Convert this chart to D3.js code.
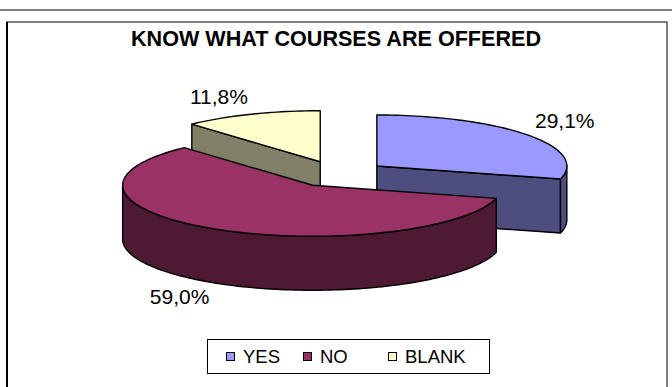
<!DOCTYPE html>
<html>
<head>
<meta charset="utf-8">
<script src="https://cdn.jsdelivr.net/npm/d3@7"></script>
<style>
  html, body { margin: 0; padding: 0; background: #fff; }
  svg { display: block; font-family: "Liberation Sans", Arial, sans-serif; }
</style>
</head>
<body>
<svg id="chart" width="672" height="387"></svg>
<script>
// Survey answers: "Know what courses are offered"
const categories = ["YES", "NO", "BLANK"];
const values = [29.1, 59.0, 11.8];
const topColors = ["#9999FF", "#993366", "#FFFFCC"];
const sideColors = ["#4D4D80", "#4D1933", "#808066"];
const title = "KNOW WHAT COURSES ARE OFFERED";

const fmt = v => d3.format(".1f")(v).replace(".", ",") + "%";

const svg = d3.select("#chart");

// outer frames
svg.append("line").attr("x1", 0).attr("x2", 672).attr("y1", 10).attr("y2", 10)
  .attr("stroke", "#808080").attr("stroke-width", 2);
svg.append("path").attr("d", "M7,392 V22 H667 V392")
  .attr("fill", "none").attr("stroke", "#555").attr("stroke-width", 1.5);
svg.append("line").attr("x1", 7).attr("x2", 7).attr("y1", 22).attr("y2", 387)
  .attr("stroke", "#000").attr("stroke-width", 2);

// title
svg.append("text")
  .attr("x", 336).attr("y", 46)
  .attr("text-anchor", "middle")
  .attr("font-weight", "bold").attr("font-size", 21.5)
  .attr("textLength", 410).attr("lengthAdjust", "spacingAndGlyphs")
  .text(title);

// 3D pie geometry (orthographic, tilted view)
const rx = 190, ry = 51, depth = 54;
const cx = 338, cy = 174, explode = 49, k = ry / rx;

const data = categories.map((c, i) => ({ name: c, value: values[i], i }));
const arcs = d3.pie().sort(null).value(d => d.value)(data);

const pt = (c, t, dz = 0) => [c.x + rx * Math.sin(t), c.y - ry * Math.cos(t) + dz];
function arcPts(c, a0, a1, dz = 0) {
  const n = Math.max(2, Math.ceil(Math.abs(a1 - a0) / (Math.PI / 120)));
  return d3.range(n + 1).map(j => pt(c, a0 + (a1 - a0) * j / n, dz));
}
const line = d3.line().curve(d3.curveLinearClosed);

arcs.forEach(a => {
  const bis = (a.startAngle + a.endAngle) / 2;
  a.bis = bis;
  a.c = { x: cx + explode * Math.sin(bis), y: cy - explode * k * Math.cos(bis) };
});

const gPie = svg.append("g")
  .attr("stroke", "#000").attr("stroke-width", 1.4).attr("stroke-linejoin", "round");

// back slices first
arcs.slice().sort((p, q) => p.c.y - q.c.y).forEach(a => {
  const c = a.c, a0 = a.startAngle, a1 = a.endAngle, i = a.data.i;
  const g = gPie.append("g");
  // radial cut faces that face the viewer
  [[a0, Math.sin(a0) < -1e-6], [a1, Math.sin(a1) > 1e-6]].forEach(([t, vis]) => {
    if (!vis) return;
    g.append("path").attr("fill", sideColors[i])
      .attr("d", line([[c.x, c.y], pt(c, t), pt(c, t, depth), [c.x, c.y + depth]]));
  });
  // outer rim (front half only)
  const lo = Math.max(a0, Math.PI / 2), hi = Math.min(a1, 3 * Math.PI / 2);
  if (lo < hi) {
    const pts = arcPts(c, lo, hi).concat(arcPts(c, hi, lo, depth));
    g.append("path").attr("fill", sideColors[i]).attr("d", line(pts));
  }
  // top face
  g.append("path").attr("fill", topColors[i])
    .attr("d", line([[c.x, c.y]].concat(arcPts(c, a0, a1))));
});

// value labels
arcs.forEach(a => {
  const s = Math.sin(a.bis), co = Math.cos(a.bis);
  const x = a.c.x + rx * 1.05 * s;
  const y = co > 0 ? a.c.y - ry * 1.22 * co
                   : a.c.y + depth + ry * 1.15 * (-co) + 15;
  svg.append("text")
    .attr("x", x).attr("y", y)
    .attr("text-anchor", s < 0 ? "end" : "start")
    .attr("font-size", 21)
    .text(fmt(a.data.value));
});

// legend
const lg = svg.append("g");
lg.append("rect").attr("x", 207.5).attr("y", 339.5).attr("width", 282).attr("height", 34)
  .attr("fill", "#fff").attr("stroke", "#000").attr("stroke-width", 1);
const legendX = [226, 303, 388];
categories.forEach((c, i) => {
  lg.append("rect").attr("x", legendX[i] + 0.5).attr("y", 352.5).attr("width", 8).attr("height", 8)
    .attr("fill", topColors[i]).attr("stroke", "#000").attr("stroke-width", 1);
  lg.append("text").attr("x", legendX[i] + 17).attr("y", 362.5)
    .attr("font-size", 18.5).text(c);
});
</script>
</body>
</html>
